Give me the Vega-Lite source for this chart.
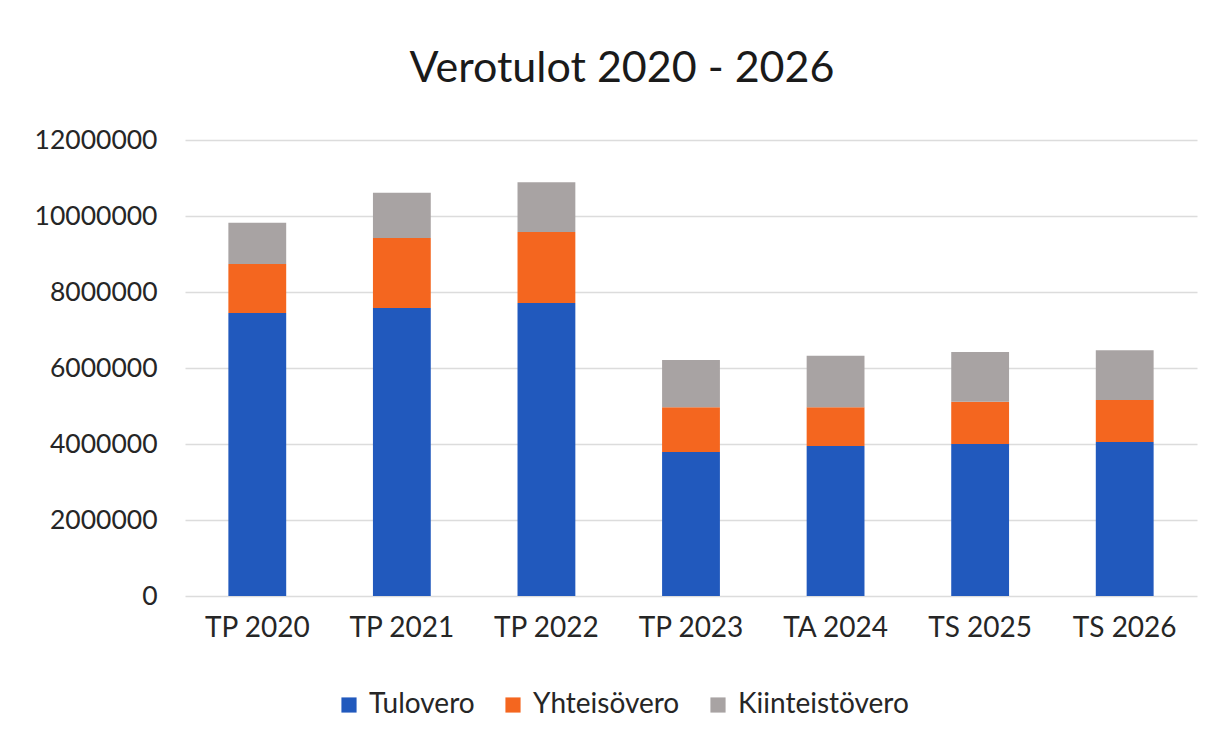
{
  "$schema": "https://vega.github.io/schema/vega-lite/v6.json",
  "width": 1012,
  "height": 456,
  "autosize": {"type": "none"},
  "padding": {"left": 185, "top": 140, "right": 28, "bottom": 148},
  "background": "white",
  "title": {
    "text": "Verotulot 2020 - 2026",
    "fontSize": 43,
    "font": "Lato",
    "fontWeight": "normal",
    "color": "#1a1a1a",
    "anchor": "middle",
    "dx": -69,
    "offset": 36
  },
  "data": {
    "values": [
      {"vuosi": "TP 2020", "laji": "Tulovero", "arvo": 7450000},
      {"vuosi": "TP 2020", "laji": "Yhteisövero", "arvo": 1290000},
      {"vuosi": "TP 2020", "laji": "Kiinteistövero", "arvo": 1080000},
      {"vuosi": "TP 2021", "laji": "Tulovero", "arvo": 7580000},
      {"vuosi": "TP 2021", "laji": "Yhteisövero", "arvo": 1840000},
      {"vuosi": "TP 2021", "laji": "Kiinteistövero", "arvo": 1190000},
      {"vuosi": "TP 2022", "laji": "Tulovero", "arvo": 7710000},
      {"vuosi": "TP 2022", "laji": "Yhteisövero", "arvo": 1870000},
      {"vuosi": "TP 2022", "laji": "Kiinteistövero", "arvo": 1310000},
      {"vuosi": "TP 2023", "laji": "Tulovero", "arvo": 3790000},
      {"vuosi": "TP 2023", "laji": "Yhteisövero", "arvo": 1180000},
      {"vuosi": "TP 2023", "laji": "Kiinteistövero", "arvo": 1240000},
      {"vuosi": "TA 2024", "laji": "Tulovero", "arvo": 3950000},
      {"vuosi": "TA 2024", "laji": "Yhteisövero", "arvo": 1020000},
      {"vuosi": "TA 2024", "laji": "Kiinteistövero", "arvo": 1350000},
      {"vuosi": "TS 2025", "laji": "Tulovero", "arvo": 4000000},
      {"vuosi": "TS 2025", "laji": "Yhteisövero", "arvo": 1110000},
      {"vuosi": "TS 2025", "laji": "Kiinteistövero", "arvo": 1310000},
      {"vuosi": "TS 2026", "laji": "Tulovero", "arvo": 4050000},
      {"vuosi": "TS 2026", "laji": "Yhteisövero", "arvo": 1110000},
      {"vuosi": "TS 2026", "laji": "Kiinteistövero", "arvo": 1310000}
    ]
  },
  "transform": [
    {"calculate": "indexof(['Tulovero','Yhteisövero','Kiinteistövero'], datum.laji)", "as": "jarj"}
  ],
  "mark": {"type": "bar"},
  "encoding": {
    "x": {
      "field": "vuosi",
      "type": "nominal",
      "sort": null,
      "title": null,
      "scale": {"paddingInner": 0.6, "paddingOuter": 0.3},
      "axis": {
        "labelAngle": 0,
        "labelFont": "Lato",
        "labelFontSize": 28,
        "labelColor": "#262626",
        "labelPadding": 18,
        "domain": false,
        "ticks": false,
        "grid": false
      }
    },
    "y": {
      "field": "arvo",
      "type": "quantitative",
      "stack": "zero",
      "title": null,
      "scale": {"domain": [0, 12000000], "nice": false},
      "axis": {
        "values": [0, 2000000, 4000000, 6000000, 8000000, 10000000, 12000000],
        "format": "d",
        "labelFont": "Lato",
        "labelFontSize": 26.5,
        "labelColor": "#262626",
        "labelPadding": 28,
        "domain": false,
        "ticks": false,
        "grid": true,
        "gridColor": "#dcdcdc",
        "gridWidth": 1.5
      }
    },
    "color": {
      "field": "laji",
      "type": "nominal",
      "sort": ["Tulovero", "Yhteisövero", "Kiinteistövero"],
      "scale": {
        "domain": ["Tulovero", "Yhteisövero", "Kiinteistövero"],
        "range": ["#2159bd", "#f4661f", "#a8a3a3"]
      },
      "legend": {
        "title": null,
        "orient": "none",
        "direction": "horizontal",
        "legendX": 150,
        "legendY": 551,
        "symbolType": "square",
        "symbolSize": 230,
        "symbolStrokeWidth": 0,
        "labelFont": "Lato",
        "labelFontSize": 28,
        "labelLimit": 400,
        "labelColor": "#262626",
        "columnPadding": 24,
        "labelOffset": 6
      }
    },
    "order": {"field": "jarj", "type": "quantitative"}
  },
  "config": {
    "view": {"stroke": null}
  }
}
